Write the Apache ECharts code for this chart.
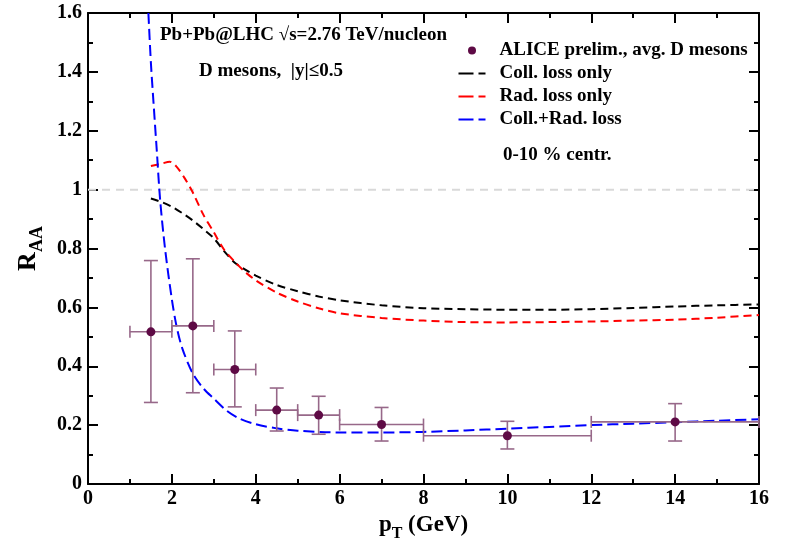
<!DOCTYPE html>
<html>
<head>
<meta charset="utf-8">
<script src="https://cdn.jsdelivr.net/npm/echarts@6/dist/echarts.min.js"></script>
<style>
html,body{margin:0;padding:0;background:#fff;}
#chart{width:785px;height:547px;}
</style>
</head>
<body>
<div id="chart"></div>
<script>
// ---- Data ----
const collX = [1.5,1.75,2,2.25,2.5,2.75,3,3.25,3.5,3.75,4,4.5,5,5.5,6,7,8,9,10,11,12,13,14,15,16];
const collY = [0.97,0.958,0.942,0.92,0.895,0.866,0.835,0.79,0.752,0.728,0.708,0.676,0.655,0.637,0.624,0.607,0.597,0.594,0.592,0.592,0.594,0.598,0.603,0.607,0.61];

const radX = [1.5,1.75,1.95,2.1,2.3,2.5,2.75,3,3.25,3.5,3.75,4,4.5,5,5.5,6,7,8,9,10,11,12,13,14,15,16];
const radY = [1.08,1.088,1.095,1.08,1.04,0.99,0.915,0.855,0.795,0.755,0.72,0.692,0.65,0.62,0.597,0.58,0.564,0.555,0.55,0.549,0.55,0.552,0.555,0.558,0.565,0.574];

const bothX = [1.44,1.5,1.56,1.64,1.72,1.84,2,2.11,2.25,2.5,2.75,3,3.3,3.6,4,4.5,5,6,7,8,9,10,11,12,13,14,15,16];
const bothY = [1.6,1.43,1.30,1.133,0.965,0.796,0.627,0.537,0.46,0.375,0.325,0.29,0.25,0.223,0.203,0.189,0.181,0.175,0.175,0.177,0.182,0.188,0.194,0.2,0.205,0.21,0.215,0.22];

const aliceX   = [1.5,2.5,3.5,4.5,5.5,7,10,14];
const aliceY   = [0.517,0.537,0.389,0.251,0.234,0.202,0.164,0.211];
const aliceXLo = [1,2,3,4,5,6,8,12];
const aliceXHi = [2,3,4,5,6,8,12,16];
const aliceYLo = [0.277,0.31,0.262,0.18,0.169,0.146,0.119,0.146];
const aliceYHi = [0.759,0.765,0.52,0.326,0.298,0.26,0.213,0.273];

const refX = [0,16];
const refY = [1,1];

const seriesNames = ['ALICE prelim., avg. D mesons','Coll. loss only','Rad. loss only','Coll.+Rad. loss'];
const xTicks = [0,2,4,6,8,10,12,14,16];
const yTicks = [0,0.2,0.4,0.6,0.8,1,1.2,1.4,1.6];

// ---- Chart ----
const FONT = '"Liberation Serif", "DejaVu Serif", serif';
const zip = (xs, ys) => xs.map((x,i)=>[x, ys[i]]);
const chart = echarts.init(document.getElementById('chart'), null, {renderer:'canvas'});

const axisCommon = {
  axisLine:{show:true, onZero:false, lineStyle:{color:'#000', width:2}},
  axisTick:{show:true, inside:true, length:10, lineStyle:{color:'#000', width:2}},
  minorTick:{show:true, splitNumber:2, length:5, lineStyle:{color:'#000', width:2}},
  splitLine:{show:false}
};

const errData = aliceX.map((x,i)=>[x, aliceY[i], aliceXLo[i], aliceXHi[i], aliceYLo[i], aliceYHi[i]]);

const lineLegendStyle = {itemStyle:{opacity:0}, lineStyle:{type:[15,5], width:2}};

chart.setOption({
  animation:false,
  backgroundColor:'#fff',
  grid:{left:88, right:26, top:13, bottom:61, containLabel:false},
  xAxis:[
    Object.assign({}, axisCommon, {
      type:'value', min:xTicks[0], max:xTicks[xTicks.length-1], interval:2, position:'bottom',
      axisLabel:{show:true, margin:5, color:'#000', fontFamily:FONT, fontWeight:'bold', fontSize:20},
      name:'{b|p}{s|T}{b| (GeV)}', nameLocation:'middle', nameGap:30,
      nameTextStyle:{rich:{
        b:{fontFamily:FONT, fontWeight:'bold', fontSize:23, color:'#000', verticalAlign:'top', lineHeight:26},
        s:{fontFamily:FONT, fontWeight:'bold', fontSize:16, color:'#000', verticalAlign:'top', lineHeight:26, padding:[12,0,0,0]}
      }}
    }),
    Object.assign({}, axisCommon, {
      type:'value', min:xTicks[0], max:xTicks[xTicks.length-1], interval:2, position:'top',
      axisLabel:{show:false}
    })
  ],
  yAxis:[
    Object.assign({}, axisCommon, {
      type:'value', min:yTicks[0], max:yTicks[yTicks.length-1], interval:0.2, position:'left',
      axisLabel:{show:true, margin:6, color:'#000', fontFamily:FONT, fontWeight:'bold', fontSize:20},
      name:'{b|R}{s|AA}', nameLocation:'middle', nameGap:42, nameRotate:90,
      nameTextStyle:{rich:{
        b:{fontFamily:FONT, fontWeight:'bold', fontSize:26, color:'#000', verticalAlign:'top', lineHeight:30},
        s:{fontFamily:FONT, fontWeight:'bold', fontSize:18, color:'#000', verticalAlign:'top', lineHeight:30, padding:[13,0,0,0]}
      }}
    }),
    Object.assign({}, axisCommon, {
      type:'value', min:yTicks[0], max:yTicks[yTicks.length-1], interval:0.2, position:'right',
      axisLabel:{show:false}
    })
  ],
  legend:{
    orient:'vertical', left:452.5, top:36, itemWidth:27, itemHeight:8, itemGap:4,
    data:[
      {name:seriesNames[0]},
      Object.assign({name:seriesNames[1]}, lineLegendStyle),
      Object.assign({name:seriesNames[2]}, lineLegendStyle),
      Object.assign({name:seriesNames[3]}, lineLegendStyle)
    ],
    textStyle:{fontFamily:FONT, fontWeight:'bold', fontSize:19, lineHeight:19, color:'#000', padding:[0,0,0,9]}
  },
  graphic:[
    {type:'text', x:160, y:35, style:{text:'Pb+Pb@LHC \u221As=2.76 TeV/nucleon', font:'bold 19px '+FONT, fill:'#000', verticalAlign:'middle'}},
    {type:'text', x:199, y:71.5, style:{text:'D mesons,  |y|\u22640.5', font:'bold 19px '+FONT, fill:'#000', verticalAlign:'middle'}},
    {type:'text', x:503, y:155, style:{text:'0-10 % centr.', font:'bold 19px '+FONT, fill:'#000', verticalAlign:'middle'}}
  ],
  series:[
    {
      name:'ref', type:'line', data:zip(refX, refY), symbol:'none', silent:true, z:1,
      lineStyle:{color:'#d9d9d9', width:2, type:[8,6]}
    },
    {
      name:'err', type:'custom', data:errData, z:3, silent:true,
      renderItem:function(params, api){
        const x = api.value(0), y = api.value(1);
        const xl = api.coord([api.value(2), y]);
        const xh = api.coord([api.value(3), y]);
        const yl = api.coord([x, api.value(4)]);
        const yh = api.coord([x, api.value(5)]);
        const ch = 6, cv = 7;
        const st = {stroke:'#976889', lineWidth:1.6, fill:null};
        return {type:'group', children:[
          {type:'line', shape:{x1:xl[0], y1:xl[1], x2:xh[0], y2:xh[1]}, style:st},
          {type:'line', shape:{x1:xl[0], y1:xl[1]-ch, x2:xl[0], y2:xl[1]+ch}, style:st},
          {type:'line', shape:{x1:xh[0], y1:xh[1]-ch, x2:xh[0], y2:xh[1]+ch}, style:st},
          {type:'line', shape:{x1:yl[0], y1:yl[1], x2:yh[0], y2:yh[1]}, style:st},
          {type:'line', shape:{x1:yl[0]-cv, y1:yl[1], x2:yl[0]+cv, y2:yl[1]}, style:st},
          {type:'line', shape:{x1:yh[0]-cv, y1:yh[1], x2:yh[0]+cv, y2:yh[1]}, style:st}
        ]};
      }
    },
    {
      name:seriesNames[0], type:'scatter', data:zip(aliceX, aliceY), symbol:'circle', symbolSize:9, z:4,
      itemStyle:{color:'#5e0a45', opacity:1}
    },
    {
      name:seriesNames[1], type:'line', data:zip(collX, collY), symbol:'none', smooth:0.3, z:2,
      lineStyle:{color:'#000', width:2, type:[8,5]}, itemStyle:{color:'#000'}
    },
    {
      name:seriesNames[2], type:'line', data:zip(radX, radY), symbol:'none', smooth:0.3, z:2,
      lineStyle:{color:'#ff0000', width:2, type:[8,5]}, itemStyle:{color:'#ff0000'}
    },
    {
      name:seriesNames[3], type:'line', data:zip(bothX, bothY), symbol:'none', smooth:0.3, z:2,
      lineStyle:{color:'#0000ff', width:2, type:[11,5]}, itemStyle:{color:'#0000ff'}
    }
  ]
});
</script>
</body>
</html>
